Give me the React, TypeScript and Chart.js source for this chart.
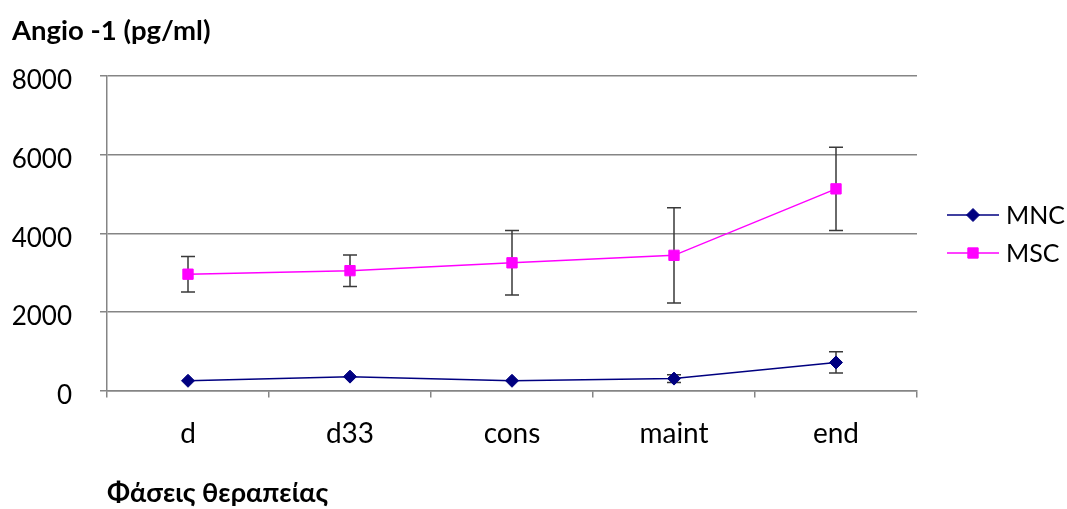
import React, { useEffect, useRef } from "react";
import { Chart, registerables } from "chart.js";

Chart.register(...registerables);

// Treatment phases and measured Angio-1 concentrations (pg/ml)
const categories = ["d", "d33", "cons", "maint", "end"];
const mncValues = [250, 355, 250, 305, 715];
const mncErrors = [0, 0, 0, 100, 270];
const mscValues = [2960, 3050, 3250, 3440, 5130];
const mscErrors = [450, 400, 820, 1210, 1060];
const yTicks = [0, 2000, 4000, 6000, 8000];

const FONT = "Lato, 'Open Sans', sans-serif";
const MNC_COLOR = "#000080";
const MSC_COLOR = "#FF00FF";
const GRID_COLOR = "#858585";

const errorSets = [mncErrors, mscErrors];

function drawMarker(ctx: CanvasRenderingContext2D, style: string, radius: number, x: number, y: number, color: string) {
  ctx.save();
  ctx.fillStyle = color;
  ctx.strokeStyle = color;
  ctx.lineWidth = 1;
  ctx.beginPath();
  if (style === "rect") {
    const s = Math.SQRT1_2 * radius;
    ctx.rect(x - s, y - s, 2 * s, 2 * s);
  } else {
    ctx.moveTo(x, y - radius);
    ctx.lineTo(x + radius, y);
    ctx.lineTo(x, y + radius);
    ctx.lineTo(x - radius, y);
    ctx.closePath();
  }
  ctx.fill();
  ctx.stroke();
  ctx.restore();
}

// Error bars under the markers, plus heading and legend on top
const overlayPlugin = {
  id: "overlay",
  beforeDatasetsDraw(chart: any) {
    const { ctx } = chart;
    const xs = chart.scales.x;
    const ys = chart.scales.y;
    ctx.save();
    ctx.strokeStyle = "#3a3a3a";
    ctx.lineWidth = 1.5;
    chart.data.datasets.forEach((ds: any, di: number) => {
      const errs = errorSets[di];
      ds.data.forEach((v: number, i: number) => {
        const e = errs[i];
        if (!e) return;
        const x = xs.getPixelForValue(i);
        const yTop = ys.getPixelForValue(v + e);
        const yBot = ys.getPixelForValue(v - e);
        const cap = 7;
        ctx.beginPath();
        ctx.moveTo(x, yTop);
        ctx.lineTo(x, yBot);
        ctx.moveTo(x - cap, yTop);
        ctx.lineTo(x + cap, yTop);
        ctx.moveTo(x - cap, yBot);
        ctx.lineTo(x + cap, yBot);
        ctx.stroke();
      });
    });
    ctx.restore();
  },
  afterDraw(chart: any) {
    const { ctx } = chart;
    ctx.save();
    ctx.fillStyle = "#000";
    ctx.font = `bold 27.5px ${FONT}`;
    ctx.textAlign = "left";
    ctx.textBaseline = "middle";
    ctx.fillText("Angio -1 (pg/ml)", 12, 31);

    const rows = [
      { label: "MNC", color: MNC_COLOR, style: "rectRot", radius: 6.5, y: 215 },
      { label: "MSC", color: MSC_COLOR, style: "rect", radius: 7.3, y: 253 },
    ];
    rows.forEach((r) => {
      ctx.strokeStyle = r.color;
      ctx.lineWidth = 1.5;
      ctx.beginPath();
      ctx.moveTo(947, r.y);
      ctx.lineTo(999, r.y);
      ctx.stroke();
      drawMarker(ctx, r.style, r.radius, 973, r.y, r.color);
      ctx.fillStyle = "#000";
      ctx.font = `25px ${FONT}`;
      ctx.textBaseline = "middle";
      ctx.fillText(r.label, 1006, r.y + 1);
    });
    ctx.restore();
  },
};

export default function App() {
  const canvasRef = useRef<HTMLCanvasElement | null>(null);

  useEffect(() => {
    if (!canvasRef.current) return;
    const chart = new Chart(canvasRef.current, {
      type: "line",
      data: {
        labels: categories,
        datasets: [
          {
            label: "MNC",
            data: mncValues,
            borderColor: MNC_COLOR,
            backgroundColor: MNC_COLOR,
            borderWidth: 1.5,
            pointStyle: "rectRot",
            pointRadius: 6.5,
            pointBorderWidth: 1,
            tension: 0,
          },
          {
            label: "MSC",
            data: mscValues,
            borderColor: MSC_COLOR,
            backgroundColor: MSC_COLOR,
            borderWidth: 1.5,
            pointStyle: "rect",
            pointRadius: 7.3,
            pointBorderWidth: 1,
            tension: 0,
          },
        ],
      },
      options: {
        responsive: false,
        animation: false,
        layout: { padding: { left: 0, top: 76, right: 150, bottom: 0 } },
        plugins: {
          legend: { display: false },
          tooltip: { enabled: false },
          title: { display: false },
        },
        scales: {
          x: {
            type: "category",
            offset: true,
            grid: {
              offset: true,
              drawOnChartArea: false,
              drawTicks: true,
              tickLength: 7,
              color: GRID_COLOR,
              lineWidth: 1.5,
            },
            border: { color: GRID_COLOR, width: 1.5 },
            ticks: {
              color: "#000",
              font: { family: FONT, size: 28 },
              padding: 20,
              maxRotation: 0,
            },
            title: {
              display: true,
              text: "Φάσεις θεραπείας",
              align: "start",
              color: "#000",
              font: { family: FONT, size: 27, weight: "bold" },
              padding: { top: 0, bottom: 0 },
            },
            afterFit: (scale: any) => {
              scale.height = 118.4;
            },
          },
          y: {
            min: 0,
            max: 8000,
            afterBuildTicks: (scale: any) => {
              scale.ticks = yTicks.map((v) => ({ value: v }));
            },
            grid: {
              color: GRID_COLOR,
              lineWidth: 1.5,
              tickLength: 7,
            },
            border: { color: GRID_COLOR, width: 1.5 },
            ticks: {
              color: "#000",
              font: { family: FONT, size: 26 },
              padding: 28,
              labelOffset: 5,
              callback: (v: any) => String(v),
            },
            afterFit: (scale: any) => {
              scale.width = 107;
            },
          },
        },
      },
      plugins: [overlayPlugin],
    });
    return () => chart.destroy();
  }, []);

  return (
    <div style={{ position: "fixed", left: 0, top: 0, width: 1067, height: 509, background: "#fff" }}>
      <canvas ref={canvasRef} width={1067} height={509} />
    </div>
  );
}
